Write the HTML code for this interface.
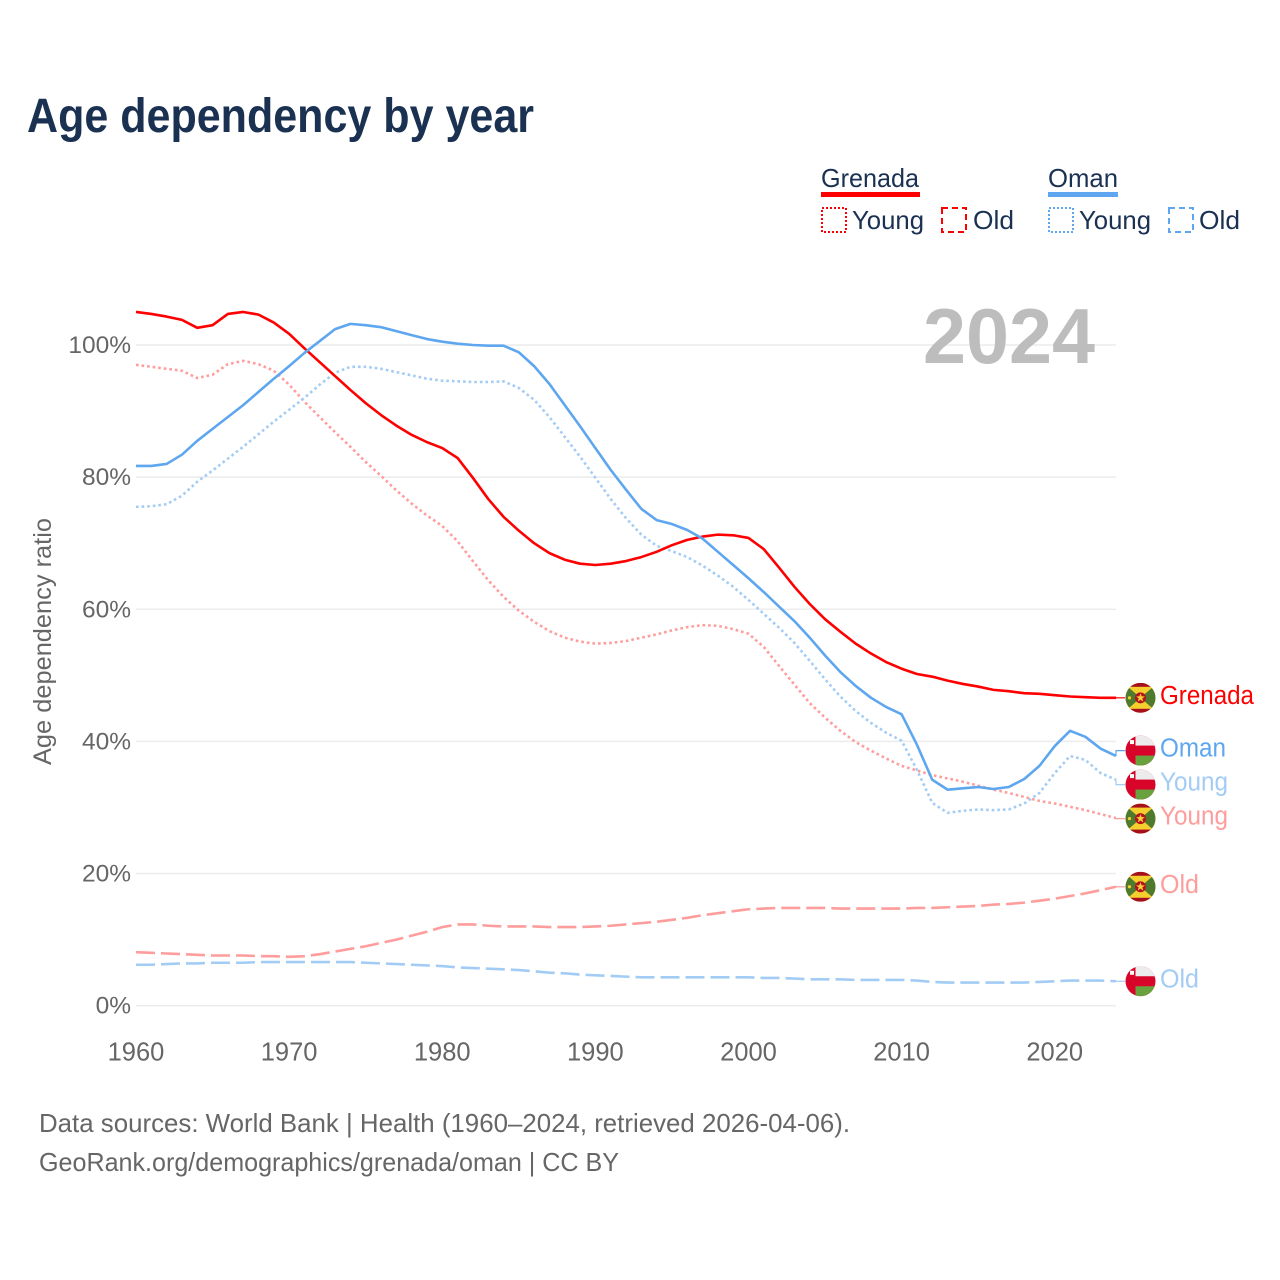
<!DOCTYPE html>
<html lang="en">
<head>
<meta charset="utf-8">
<title>Age dependency by year</title>
<style>
html,body{margin:0;padding:0;background:#fff}
svg{display:block}
text{font-family:"Liberation Sans",sans-serif}
</style>
</head>
<body>
<svg id="chart" xmlns="http://www.w3.org/2000/svg" width="1280" height="1280" viewBox="0 0 1280 1280">
  <defs>
    <clipPath id="flag-clip"><circle cx="0" cy="0" r="15"></circle></clipPath>
    <symbol id="flag-grenada" overflow="visible" viewBox="-15 -15 30 30" width="30" height="30">
      <g clip-path="url(#flag-clip)">
        <rect x="-15" y="-15" width="30" height="30" fill="#f5cf2e"></rect>
        <polygon points="-16,-14 0,0 -16,14" fill="#4e7a2e"></polygon>
        <polygon points="16,-14 0,0 16,14" fill="#4e7a2e"></polygon>
        <rect x="-15" y="-15" width="30" height="4" fill="#a50f1e"></rect>
        <rect x="-15" y="11" width="30" height="4" fill="#a50f1e"></rect>
        <circle cx="0" cy="0" r="5.5" fill="#b5121f"></circle>
        <polygon points="0,-4.5 1.2,-1.4 4.4,-1.4 1.8,0.6 2.8,3.8 0,1.9 -2.8,3.8 -1.8,0.6 -4.4,-1.4 -1.2,-1.4" fill="#f7d038"></polygon>
        <circle cx="-11" cy="0" r="1.6" fill="#f5cf2e"></circle>
      </g>
    </symbol>
    <symbol id="flag-oman" overflow="visible" viewBox="-15 -15 30 30" width="30" height="30">
      <g clip-path="url(#flag-clip)">
        <rect x="-15" y="-15" width="30" height="30" fill="#d90429"></rect>
        <rect x="-5" y="-15" width="20" height="10" fill="#ececec"></rect>
        <rect x="-5" y="5" width="20" height="10" fill="#6aa13f"></rect>
        <rect x="-10.5" y="-10.5" width="4" height="4" fill="#fff"></rect>
      </g>
    </symbol>
  </defs>

  <text x="27" y="132" font-size="48" font-weight="700" fill="#1a3152" textLength="507" lengthAdjust="spacingAndGlyphs">Age dependency by year</text>

  <g font-size="26" fill="#1a3152">
    <text x="821" y="187" textLength="98" lengthAdjust="spacingAndGlyphs">Grenada</text>
    <rect x="821" y="192" width="99" height="5" fill="#ff0000"></rect>
    <rect x="822" y="208" width="24" height="24" fill="none" stroke="#ff0000" stroke-width="2" stroke-dasharray="2 2"></rect>
    <text x="852" y="229" textLength="72" lengthAdjust="spacingAndGlyphs">Young</text>
    <rect x="942" y="208" width="24" height="24" fill="none" stroke="#ff0000" stroke-width="2" stroke-dasharray="6 4"></rect>
    <text x="973" y="229" textLength="41" lengthAdjust="spacingAndGlyphs">Old</text>
    <text x="1048" y="187" textLength="70" lengthAdjust="spacingAndGlyphs">Oman</text>
    <rect x="1048" y="192" width="70" height="5" fill="#5ea6ef"></rect>
    <rect x="1049" y="208" width="24" height="24" fill="none" stroke="#5ea6ef" stroke-width="2" stroke-dasharray="2 2"></rect>
    <text x="1079" y="229" textLength="72" lengthAdjust="spacingAndGlyphs">Young</text>
    <rect x="1169" y="208" width="24" height="24" fill="none" stroke="#5ea6ef" stroke-width="2" stroke-dasharray="6 4"></rect>
    <text x="1199" y="229" textLength="41" lengthAdjust="spacingAndGlyphs">Old</text>
  </g>

  <text transform="translate(51,641.5) rotate(-90)" text-anchor="middle" font-size="25" fill="#666666" textLength="247" lengthAdjust="spacingAndGlyphs">Age dependency ratio</text>

  <g id="grid"></g>
  <g id="y-ticks"></g>
  <g id="x-ticks"></g>
  <text id="year-label" x="1095" y="363" text-anchor="end" font-size="78" font-weight="700" fill="#bdbdbd" textLength="172" lengthAdjust="spacingAndGlyphs"></text>
  <g id="series"></g>
  <g id="end-labels"></g>

  <text x="39" y="1132" font-size="26" fill="#666666" textLength="811" lengthAdjust="spacingAndGlyphs">Data sources: World Bank | Health (1960–2024, retrieved 2026-04-06).</text>
  <text x="39" y="1171" font-size="26" fill="#666666" textLength="580" lengthAdjust="spacingAndGlyphs">GeoRank.org/demographics/grenada/oman | CC BY</text>
</svg>

<script>
var firstYear = 1960;
var lastYear = 2024;
var xTickYears = [1960, 1970, 1980, 1990, 2000, 2010, 2020];
var yTickValues = [0, 20, 40, 60, 80, 100];

var grenadaTotal = [105.0,104.7,104.3,103.8,102.6,103.0,104.7,105.0,104.6,103.4,101.7,99.5,97.4,95.3,93.2,91.2,89.4,87.8,86.4,85.3,84.4,82.9,79.9,76.7,74.0,71.9,70.0,68.5,67.5,66.9,66.7,66.9,67.3,67.9,68.7,69.7,70.5,71.0,71.3,71.2,70.8,69.1,66.3,63.4,60.8,58.5,56.6,54.8,53.3,52.0,51.0,50.2,49.8,49.2,48.7,48.3,47.8,47.6,47.3,47.2,47.0,46.8,46.7,46.6,46.6];
var grenadaYoung = [97.0,96.7,96.4,96.1,95.0,95.5,97.1,97.6,97.1,96.1,94.0,91.4,89.1,86.8,84.6,82.3,80.2,78.0,76.0,74.2,72.6,70.3,67.3,64.4,61.9,59.8,58.1,56.7,55.7,55.1,54.8,54.9,55.2,55.7,56.2,56.8,57.3,57.6,57.5,57.0,56.3,54.3,51.4,48.6,45.8,43.6,41.6,39.9,38.6,37.4,36.3,35.6,34.9,34.4,33.9,33.3,32.7,32.2,31.6,31.0,30.6,30.1,29.6,29.0,28.4];
var grenadaOld = [8.1,8.0,7.9,7.8,7.7,7.6,7.6,7.6,7.5,7.5,7.4,7.5,7.8,8.2,8.6,9.0,9.5,10.0,10.6,11.2,11.9,12.3,12.3,12.1,12.0,12.0,12.0,11.9,11.9,11.9,12.0,12.1,12.3,12.5,12.7,13.0,13.3,13.7,14.0,14.3,14.6,14.7,14.8,14.8,14.8,14.8,14.7,14.7,14.7,14.7,14.7,14.8,14.8,14.9,15.0,15.1,15.3,15.4,15.6,15.9,16.2,16.6,17.0,17.5,18.0];
var omanTotal = [81.7,81.7,82.0,83.4,85.5,87.3,89.1,90.9,92.9,94.9,96.8,98.8,100.6,102.4,103.2,103.0,102.7,102.1,101.5,100.9,100.5,100.2,100.0,99.9,99.9,98.9,96.8,94.1,90.9,87.7,84.4,81.1,78.1,75.2,73.5,72.9,72.0,70.7,68.7,66.7,64.7,62.6,60.4,58.2,55.7,53.0,50.5,48.4,46.6,45.2,44.1,39.5,34.2,32.7,32.9,33.1,32.8,33.1,34.3,36.3,39.3,41.6,40.7,38.9,37.8];
var omanYoung = [75.5,75.6,75.9,77.2,79.3,81.0,82.8,84.6,86.5,88.4,90.2,92.0,94.0,95.8,96.7,96.7,96.4,95.9,95.4,94.9,94.6,94.5,94.4,94.4,94.5,93.5,91.7,89.1,86.1,83.1,79.9,76.7,73.8,71.3,69.6,68.8,67.9,66.6,65.1,63.4,61.4,59.3,57.2,54.9,52.2,49.4,46.8,44.6,42.8,41.3,40.1,35.7,30.7,29.2,29.5,29.7,29.6,29.7,30.6,32.2,35.2,37.8,37.2,35.2,34.2];
var omanOld = [6.2,6.2,6.3,6.4,6.4,6.5,6.5,6.5,6.6,6.6,6.6,6.6,6.6,6.6,6.6,6.5,6.4,6.3,6.2,6.1,6.0,5.8,5.7,5.6,5.5,5.4,5.2,5.0,4.9,4.7,4.6,4.5,4.4,4.3,4.3,4.3,4.3,4.3,4.3,4.3,4.3,4.2,4.2,4.1,4.0,4.0,4.0,3.9,3.9,3.9,3.9,3.8,3.6,3.5,3.5,3.5,3.5,3.5,3.5,3.6,3.7,3.8,3.8,3.8,3.7];

var seriesList = [
  {key:'grenada-old',   values:grenadaOld,   color:'#ff9c9c', dash:'19 6',  label:'Old',     flag:'flag-grenada'},
  {key:'oman-old',      values:omanOld,      color:'#a3ccf5', dash:'19 6',  label:'Old',     flag:'flag-oman'},
  {key:'grenada-young', values:grenadaYoung, color:'#ff9c9c', dash:'2.6 3', label:'Young',   flag:'flag-grenada'},
  {key:'oman-young',    values:omanYoung,    color:'#a3ccf5', dash:'2.6 3', label:'Young',   flag:'flag-oman'},
  {key:'grenada-total', values:grenadaTotal, color:'#ff0000', dash:'',      label:'Grenada', flag:'flag-grenada'},
  {key:'oman-total',    values:omanTotal,    color:'#5ea6ef', dash:'',      label:'Oman',    flag:'flag-oman'}
];
var labelWidths = {Grenada:94, Oman:66, Young:68, Old:39};

var NS = 'http://www.w3.org/2000/svg';
function xScale(year){ return 136 + (year - firstYear) * (1116 - 136) / (lastYear - firstYear); }
function yScale(v){ return 1005.7 - v * (1005.7 - 345) / 100; }
function make(tag, attrs, parent){
  var el = document.createElementNS(NS, tag);
  for (var k in attrs) el.setAttribute(k, attrs[k]);
  parent.appendChild(el);
  return el;
}

var gridG = document.getElementById('grid');
var yG = document.getElementById('y-ticks');
yTickValues.forEach(function(v){
  var line = make('line', {x1:136, x2:1116, y1:yScale(v), y2:yScale(v), stroke:'#ececec', 'stroke-width':1.5}, gridG);
  
  
  var t = make('text', {x:131, y:yScale(v)+8, 'text-anchor':'end', 'font-size':24.5, fill:'#666666'}, yG);
  
  
  t.textContent = v + '%';
});

var xG = document.getElementById('x-ticks');
xTickYears.forEach(function(y){
  var t = make('text', {x:xScale(y), y:1060.5, 'text-anchor':'middle', 'font-size':25.5, fill:'#666666'}, xG);
  
  
  t.textContent = y;
});

document.getElementById('year-label').textContent = lastYear;

var seriesG = document.getElementById('series');
seriesList.forEach(function(s){
  var d = s.values.map(function(v, i){
    return (i ? 'L' : 'M') + xScale(firstYear + i).toFixed(2) + ' ' + yScale(v).toFixed(2);
  }).join('');
  var p = make('path', {d:d, fill:'none', stroke:s.color, 'stroke-width':2.6, 'stroke-linejoin':'round'}, seriesG);
  if (s.dash) p.setAttribute('stroke-dasharray', s.dash);
  
  
});

// De-overlap the end labels: merge touching clusters, centre each on its members.
var GAP = 34;
var ends = seriesList.map(function(s){
  return {s:s, end:yScale(s.values[s.values.length - 1])};
}).sort(function(a, b){ return a.end - b.end; });
var clusters = ends.map(function(e){ return {items:[e], y:e.end}; });
var merged = true;
while (merged) {
  merged = false;
  for (var i = 0; i < clusters.length - 1; i++) {
    var a = clusters[i], b = clusters[i + 1];
    var aBottom = a.y + (a.items.length - 1) * GAP / 2;
    var bTop = b.y - (b.items.length - 1) * GAP / 2;
    if (bTop - aBottom < GAP) {
      var items = a.items.concat(b.items);
      var sum = items.reduce(function(t, e){ return t + e.end; }, 0);
      clusters.splice(i, 2, {items:items, y:sum / items.length});
      merged = true;
      break;
    }
  }
}
var labelsG = document.getElementById('end-labels');
clusters.forEach(function(c){
  c.items.forEach(function(e, idx){
    var ly = c.y + (idx - (c.items.length - 1) / 2) * GAP;
    var s = e.s;
    var leader = make('path', {d:'M1116 ' + e.end.toFixed(2) + 'V' + ly.toFixed(2) + 'H1125', fill:'none', stroke:s.color, 'stroke-width':1.2}, labelsG);
    
    
    var flag = make('use', {href:'#' + s.flag, x:1125.5, y:ly - 15, width:30, height:30}, labelsG);
    
    
    var t = make('text', {x:1160, y:ly + 6, 'font-size':25.5, fill:s.color, textLength:labelWidths[s.label], lengthAdjust:'spacingAndGlyphs'}, labelsG);
    
    
    t.textContent = s.label;
  });
});
</script>
</body>
</html>
